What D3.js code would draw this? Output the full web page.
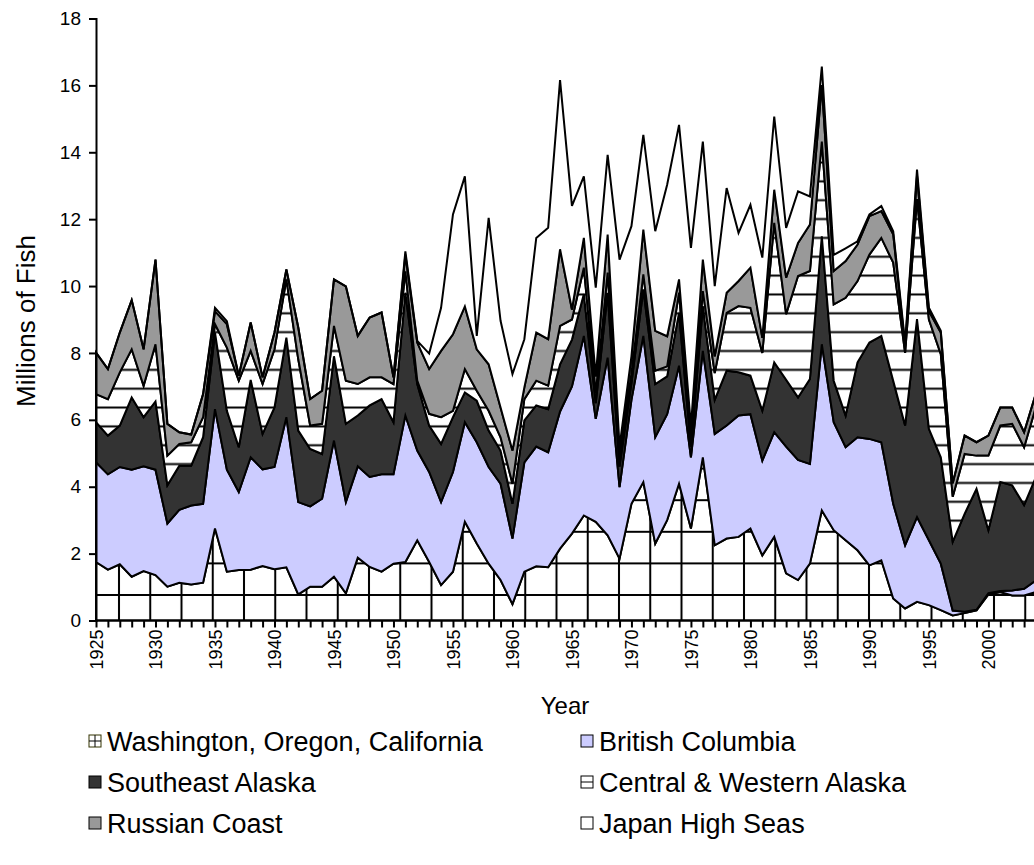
<!DOCTYPE html>
<html>
<head>
<meta charset="utf-8">
<script src="https://cdn.jsdelivr.net/npm/d3@7"></script>
<style>
body { margin: 0; background: #fff; }
text { font-family: "Liberation Sans", Arial, sans-serif; fill: #000; }
</style>
</head>
<body>
<div id="chart"></div>
<script>
// catch by region, millions of fish, 1925-2004
var years = d3.range(1925, 2005)

var woc = [1.75,1.52,1.68,1.31,1.48,1.36,1.01,1.13,1.08,1.13, 2.75,1.46,1.51,1.52,1.63,1.53,1.59,0.78,1.01,1.01,
  1.31,0.81,1.88,1.60,1.46,1.70,1.75,2.40,1.75,1.06, 1.46,2.95,2.30,1.70,1.21,0.49,1.46,1.62,1.59,2.15,
  2.60,3.14,2.95,2.55,1.85,3.49,4.14,2.30,3.00,4.09, 2.75,4.88,2.25,2.45,2.50,2.75,1.95,2.50,1.41,1.21,
  1.70,3.29,2.70,2.40,2.10,1.65,1.80,0.66,0.36,0.56, 0.46,0.31,0.15,0.22,0.30,0.78,0.85,0.75,0.75,0.85]
var bc = [2.98,2.85,2.91,3.20,3.13,3.15,1.89,2.18,2.36,2.36, 3.57,3.05,2.33,3.36,2.89,3.06,4.49,2.76,2.40,2.63,
  4.07,2.73,2.73,2.69,2.91,2.67,4.38,2.68,2.69,2.48, 2.98,2.98,3.03,2.89,2.88,1.96,3.27,3.58,3.44,4.10,
  4.40,5.37,3.08,5.31,2.14,3.11,4.37,3.18,3.17,3.53, 2.13,3.18,3.33,3.38,3.63,3.42,2.83,3.13,3.79,3.59,
  2.98,4.97,3.23,2.78,3.38,3.78,3.53,2.83,1.89,2.53, 1.94,1.39,0.15,0.04,0.02,0.04,0.03,0.15,0.20,0.35]
var sea = [1.20,1.16,1.24,2.16,1.47,2.04,1.14,1.32,1.19,1.99, 2.29,1.76,1.34,2.31,1.06,1.78,2.38,2.14,1.72,1.34,
  2.52,2.34,1.52,2.14,2.25,1.56,3.67,1.99,1.39,1.74, 1.64,0.89,1.24,1.09,0.99,1.04,1.25,1.23,1.29,1.41,
  1.40,1.25,0.47,1.94,0.61,0.50,1.39,1.59,1.13,1.58, 0.32,1.34,1.02,1.64,1.29,1.15,1.49,2.09,2.00,1.87,
  2.54,3.23,1.24,0.95,2.24,2.88,3.18,3.68,3.58,5.92, 3.33,3.18,2.05,2.93,3.62,1.88,3.26,3.14,2.50,3.10]
var cwa = [0.84,1.09,1.59,1.44,0.94,1.71,0.89,0.65,0.70,0.60, 0.25,1.89,1.99,0.87,1.49,1.74,1.74,2.13,0.70,0.90,
  0.91,1.29,0.94,0.84,0.65,1.14,0.64,0.10,0.35,0.80, 0.19,0.70,0.30,0.59,0.40,0.60,0.64,0.74,0.70,1.15,
  0.60,0.79,0.30,0.60,0.30,0.30,0.45,0.40,0.30,0.60, 0.25,0.45,0.80,1.73,1.98,2.03,1.73,4.17,1.96,3.63,
  3.23,2.83,2.28,3.52,2.43,2.63,2.93,3.53,2.17,3.59, 3.27,3.08,1.35,1.79,0.99,2.23,1.69,1.84,1.73,2.10]
var rus = [1.24,0.90,1.19,1.47,1.09,2.53,0.95,0.35,0.23,0.69, 0.39,0.70,0.15,0.85,0.20,0.50,0.30,0.95,0.79,0.99,
  1.39,2.82,1.44,1.79,1.94,0.20,0.50,1.14,1.34,1.98, 2.29,1.87,1.24,1.39,0.89,0.99,0.35,1.44,1.39,2.29,
  0.30,0.89,0.50,1.14,0.30,0.50,1.34,1.19,0.90,0.40, 0.35,0.94,0.50,0.60,0.75,1.20,0.45,0.99,1.09,0.99,
  1.39,1.69,1.00,1.10,1.09,1.15,0.80,0.85,0.20,0.70, 0.25,0.65,0.40,0.55,0.40,0.60,0.54,0.49,0.45,0.40]
var jhs = [0,0,0,0,0,0,0,0,0,0, 0.10,0.09,0,0,0,0,0,0,0,0,
  0,0,0,0,0,0,0.10,0.05,0.46,1.29, 3.58,3.89,0.40,4.38,2.59,2.29,1.44,2.83,3.33,5.06,
  3.10,1.84,2.65,2.38,5.59,3.89,2.83,2.98,4.53,4.62, 5.34,3.53,2.10,3.13,1.44,1.88,2.40,2.19,1.49,1.54,
  0.84,0.55,0.48,0.38,0.10,0.05,0.15,0.09,0.10,0.18, 0.10,0.05,0,0,0,0,0,0,0,0]

var names = ['Washington, Oregon, California', 'British Columbia', 'Southeast Alaska',
  'Central & Western Alaska', 'Russian Coast', 'Japan High Seas']
var seriesValues = [woc, bc, sea, cwa, rus, jhs]
var fills = ['url(#grid)', '#ccccff', '#333333', 'url(#hlines)', '#999999', '#ffffff']

var yTicks = [0, 2, 4, 6, 8, 10, 12, 14, 16, 18]
var xLabelYears = d3.range(1925, 2005, 5)

var rows = years.map(function(yr, i){
  var r = {year: yr}
  names.forEach(function(n, k){ r[n] = seriesValues[k][i] })
  return r
})
var stacked = d3.stack().keys(names)(rows)

var W = 1034, H = 865
var svg = d3.select('#chart').append('svg').attr('width', W).attr('height', H)

var x = d3.scaleLinear().domain([1925, 2004]).range([96, 1036])
var y = d3.scaleLinear().domain([0, 18]).range([620.5, 18.5])

// hatch patterns, like the excel fills
var defs = svg.append('defs')
var grid = defs.append('pattern').attr('id', 'grid')
  .attr('patternUnits', 'userSpaceOnUse')
  .attr('x', 119 - 15.625).attr('y', 595 - 15.8)
  .attr('width', 31.25).attr('height', 31.6)
grid.append('rect').attr('width', 31.25).attr('height', 31.6).attr('fill', '#fff')
grid.append('path').attr('d', 'M15.625,0V31.6M0,15.8H31.25')
  .attr('stroke', '#000').attr('stroke-width', 2)

var hl = defs.append('pattern').attr('id', 'hlines')
  .attr('patternUnits', 'userSpaceOnUse')
  .attr('x', 0).attr('y', 313.3 - 9.425)
  .attr('width', 20).attr('height', 18.85)
hl.append('rect').attr('width', 20).attr('height', 18.85).attr('fill', '#fff')
hl.append('path').attr('d', 'M0,9.425H20').attr('stroke', '#000').attr('stroke-width', 2)

var area = d3.area()
  .x(function(d){ return x(d.data.year) })
  .y0(function(d){ return y(d[0]) })
  .y1(function(d){ return y(d[1]) })

svg.append('g').selectAll('path')
  .data(stacked)
  .join('path')
  .attr('d', area)
  .attr('fill', function(d, i){ return fills[i] })
  .attr('stroke', '#000')
  .attr('stroke-width', 2)
  .attr('stroke-linejoin', 'miter')

// axes
var yAxis = svg.append('g').attr('transform', 'translate(96,0)')
  .call(d3.axisLeft(y).tickValues(yTicks).tickSize(7).tickPadding(8))
yAxis.selectAll('path, line').attr('stroke', '#000').attr('stroke-width', 2)
yAxis.selectAll('text').style('font-size', '19px')

var xAxis = svg.append('g').attr('transform', 'translate(0,620.5)')
  .call(d3.axisBottom(x).tickValues(years).tickSize(7)
    .tickFormat(function(d){ return xLabelYears.indexOf(d) >= 0 ? d : '' }))
xAxis.select('.domain').attr('d', 'M96,0H1040')
xAxis.selectAll('path, line').attr('stroke', '#000').attr('stroke-width', 2)
xAxis.selectAll('text')
  .style('font-size', '18px')
  .attr('text-anchor', 'end')
  .attr('transform', 'rotate(-90)')
  .attr('x', -9).attr('y', 0).attr('dy', '0.35em')

svg.selectAll('.domain').attr('fill', 'none')

svg.append('text')
  .attr('transform', 'translate(35,321) rotate(-90)')
  .attr('text-anchor', 'middle')
  .style('font-size', '26px')
  .text('Millions of Fish')

svg.append('text')
  .attr('x', 565).attr('y', 714)
  .attr('text-anchor', 'middle')
  .style('font-size', '24px')
  .text('Year')

// legend, two columns
var leg = svg.append('g').selectAll('g')
  .data(names)
  .join('g')
  .attr('transform', function(d, i){
    return 'translate(' + (i % 2 ? 581 : 89) + ',' + (741 + Math.floor(i / 2) * 41) + ')'
  })

leg.append('rect')
  .attr('x', 0).attr('y', -6).attr('width', 12).attr('height', 12)
  .attr('fill', function(d, i){ return i == 0 || i == 3 ? '#fff' : fills[i] })
  .attr('stroke', function(d, i){ return i == 0 ? '#333300' : '#000' })
  .attr('stroke-width', 1)

leg.filter(function(d, i){ return i == 0 || i == 3 })
  .append('path')
  .attr('d', function(d, i){ return d == names[0] ? 'M6,-6V6M0,0H12' : 'M0,0H12' })
  .attr('stroke', '#000').attr('stroke-width', 1)

leg.append('text')
  .attr('x', 18).attr('y', 0).attr('dy', '0.36em')
  .style('font-size', '27px')
  .text(function(d){ return d })
</script>
</body>
</html>
